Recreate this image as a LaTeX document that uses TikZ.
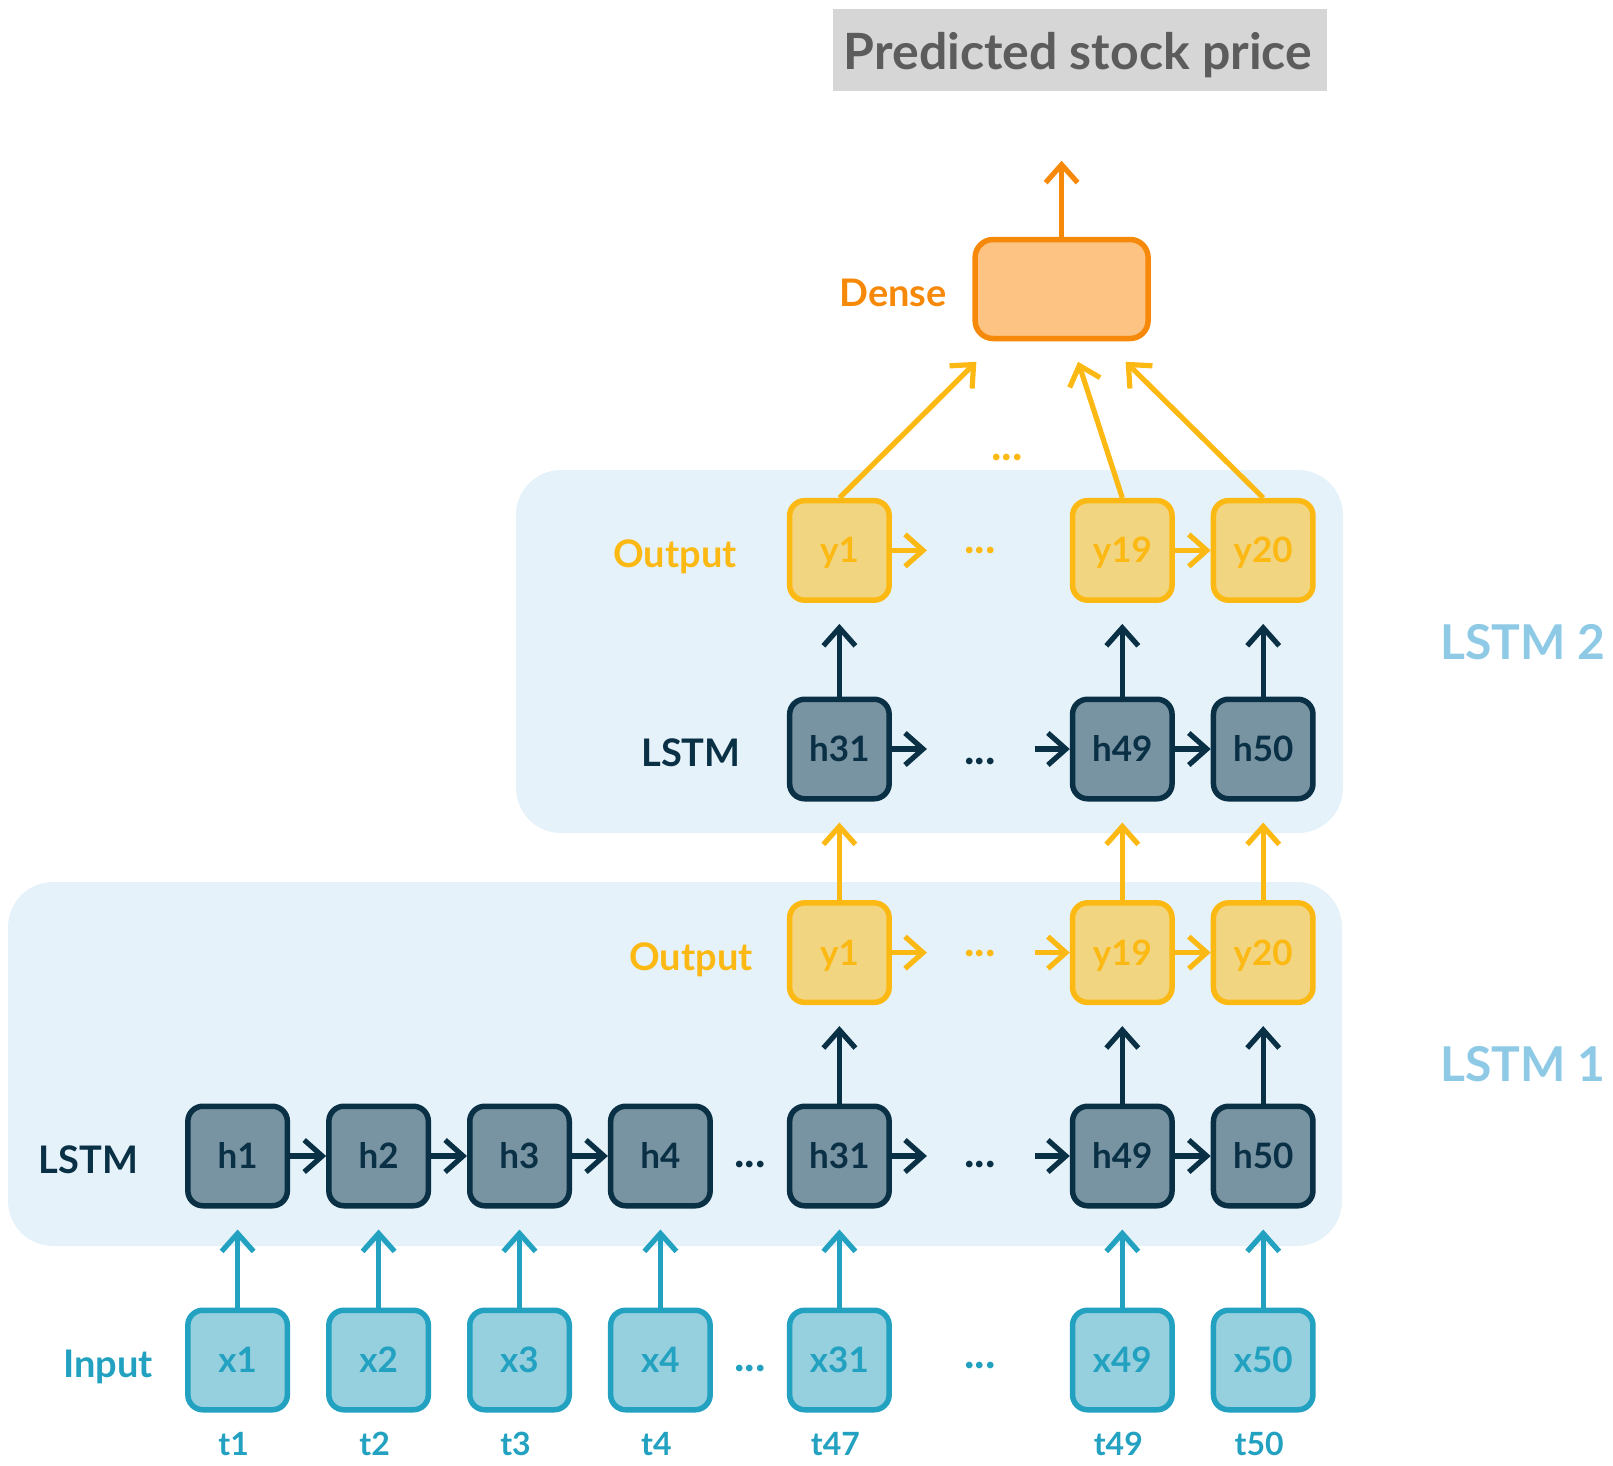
\documentclass[tikz,border=0pt]{standalone}
\usepackage{fontspec}
\setmainfont{Lato}
\usetikzlibrary{arrows.meta,calc}

\definecolor{panel}{HTML}{E5F2F9}
\definecolor{tealL}{HTML}{22A1C0}
\definecolor{tealF}{HTML}{96CFDD}
\definecolor{navy}{HTML}{0A3045}
\definecolor{slate}{HTML}{7893A1}
\definecolor{gold}{HTML}{FDB913}
\definecolor{goldF}{HTML}{F1D580}
\definecolor{orangeL}{HTML}{F7890A}
\definecolor{orangeF}{HTML}{FDC383}
\definecolor{titleBg}{HTML}{D6D6D6}
\definecolor{titleFg}{HTML}{5C5C5C}
\definecolor{panelLbl}{HTML}{8ECAE6}

\begin{document}
\begin{tikzpicture}[x=1pt,y=-1pt,
  cell/.style={rounded corners=15pt, line width=5.5pt, minimum width=99.5pt,
    minimum height=99.5pt, inner sep=0pt, text height=25pt, text depth=0pt,
    font=\fontsize{35}{35}\selectfont\bfseries},
  xcell/.style={cell, draw=tealL, fill=tealF, text=tealL},
  hcell/.style={cell, draw=navy, fill=slate, text=navy},
  ycell/.style={cell, draw=gold, fill=goldF, text=gold},
  rowlbl/.style={anchor=base, inner sep=0pt, font=\fontsize{38}{38}\selectfont\bfseries},
  steplbl/.style={anchor=base, inner sep=0pt, text=tealL, font=\fontsize{32}{32}\selectfont\bfseries},
  layerlbl/.style={anchor=base west, inner sep=0pt, text=panelLbl, font=\fontsize{48}{48}\selectfont\bfseries},
  gap/.style={inner sep=0pt, font=\fontsize{44}{44}\selectfont\bfseries},
  link/.style={line width=5.2pt, -{Straight Barb[length=18pt,width=32pt]}},
  panelbox/.style={fill=panel, rounded corners=45pt},
]
\useasboundingbox (0,0) rectangle (1613,1465);

% layer panels
\fill[panelbox] (8,882) rectangle (1342,1246);
\fill[panelbox] (516,470) rectangle (1343,833);

% title
\node[fill=titleBg, minimum width=494pt, minimum height=82pt, inner sep=0pt]
  (title) at (1080,49.5) {};
\node[anchor=base, inner sep=0pt, text=titleFg,
  font=\fontsize{50}{50}\selectfont\bfseries] (titletext) at (1078,69)
  {Predicted stock price};

% dense layer
\node[draw=orangeL, fill=orangeF, line width=5.5pt, rounded corners=18pt,
  minimum width=173pt, minimum height=99pt] (dense) at (1061.6,289) {};
\node[rowlbl, text=orangeL] (denselbl) at (893,306) {Dense};

% row labels
\node[rowlbl, text=tealL] (inlbl) at (108,1377) {Input};
\node[rowlbl, text=navy] (lstmAlbl) at (88.5,1173) {LSTM};
\node[rowlbl, text=gold] (outAlbl) at (691,970) {Output};
\node[rowlbl, text=navy] (lstmBlbl) at (691,766) {LSTM};
\node[rowlbl, text=gold] (outBlbl) at (675,567.5) {Output};

% layer labels
\node[layerlbl] (layerB) at (1440,659) {LSTM 2};
\node[layerlbl] (layerA) at (1440,1081) {LSTM 1};

% inputs, first LSTM layer and its outputs
\foreach \n/\px/\tl in {1/237.6/t1, 2/378.6/t2, 3/519.5/t3, 4/660.4/t4,
                        31/839.4/t47, 49/1122.3/t49, 50/1263.2/t50}{
  \node[xcell] (x\n) at (\px,1360) {x\n};
  \node[hcell] (h\n) at (\px,1156) {h\n};
  \node[steplbl] (t\n) at (\px-4,1455) {\tl};
}
\foreach \n/\lab/\px in {1/y1/839.4, 19/y19/1122.3, 20/y20/1263.2}{
  \node[ycell] (ya\n) at (\px,952.6) {\lab};
  \node[ycell] (yb\n) at (\px,550.4) {\lab};
}
\foreach \n/\lab/\px in {31/h31/839.4, 49/h49/1122.3, 50/h50/1263.2}{
  \node[hcell] (hb\n) at (\px,749) {\lab};
}

% ellipses
\node[gap, text=tealL] (gx1) at (750,1368) {...};
\node[gap, text=tealL] (gx2) at (980,1365) {...};
\node[gap, text=navy] (gh1) at (750,1164.5) {...};
\node[gap, text=navy] (gh2) at (980,1164.5) {...};
\node[gap, text=gold] (gya) at (980,953.6) {...};
\node[gap, text=navy] (ghb) at (980,761) {...};
\node[gap, text=gold] (gyb) at (980,550) {...};
\node[gap, text=gold] (gtop) at (1007,457.8) {...};

% stub ends of the recurrent chains
\coordinate (sa1) at ($(h31.east)+(35,0)$);
\coordinate (sa2) at ($(h49.west)+(-35,0)$);
\coordinate (sy1) at ($(ya1.east)+(35,0)$);
\coordinate (sy2) at ($(ya19.west)+(-35,0)$);
\coordinate (sb1) at ($(hb31.east)+(35,0)$);
\coordinate (sb2) at ($(hb49.west)+(-35,0)$);
\coordinate (sz1) at ($(yb1.east)+(35,0)$);

% input -> LSTM 1
\foreach \n in {1,2,3,4,31,49,50}{
  \draw[link, tealL] (x\n.north) -- ($(h\n.south)+(0,21)$);
}
% LSTM 1 recurrence
\draw[link, navy] (h1.east) -- (h2.west);
\draw[link, navy] (h2.east) -- (h3.west);
\draw[link, navy] (h3.east) -- (h4.west);
\draw[link, navy] (h31.east) -- (sa1);
\draw[link, navy] (sa2) -- (h49.west);
\draw[link, navy] (h49.east) -- (h50.west);
% LSTM 1 -> outputs
\draw[link, navy] (h31.north) -- ($(ya1.south)+(0,21)$);
\draw[link, navy] (h49.north) -- ($(ya19.south)+(0,21)$);
\draw[link, navy] (h50.north) -- ($(ya20.south)+(0,21)$);
% output chain of LSTM 1
\draw[link, gold] (ya1.east) -- (sy1);
\draw[link, gold] (sy2) -- (ya19.west);
\draw[link, gold] (ya19.east) -- (ya20.west);
% LSTM 1 outputs -> LSTM 2
\draw[link, gold] (ya1.north) -- ($(hb31.south)+(0,21)$);
\draw[link, gold] (ya19.north) -- ($(hb49.south)+(0,21)$);
\draw[link, gold] (ya20.north) -- ($(hb50.south)+(0,21)$);
% LSTM 2 recurrence
\draw[link, navy] (hb31.east) -- (sb1);
\draw[link, navy] (sb2) -- (hb49.west);
\draw[link, navy] (hb49.east) -- (hb50.west);
% LSTM 2 -> outputs
\draw[link, navy] (hb31.north) -- ($(yb1.south)+(0,21)$);
\draw[link, navy] (hb49.north) -- ($(yb19.south)+(0,21)$);
\draw[link, navy] (hb50.north) -- ($(yb20.south)+(0,21)$);
% output chain of LSTM 2
\draw[link, gold] (yb1.east) -- (sz1);
\draw[link, gold] (yb19.east) -- (yb20.west);
% outputs -> dense
\coordinate (d1) at ($(dense.south west)+(4,20.5)$);
\coordinate (d2) at ($(dense.south)+(16.5,20.5)$);
\coordinate (d3) at ($(dense.south)+(64,20.5)$);
\draw[link, gold] (yb1.north) -- (d1);
\draw[link, gold] (yb19.north) -- (d2);
\draw[link, gold] (yb20.north) -- (d3);
% dense -> prediction
\coordinate (pred) at ($(dense.north)+(0,-76)$);
\draw[link, orangeL] (dense.north) -- (pred);
\end{tikzpicture}
\end{document}
